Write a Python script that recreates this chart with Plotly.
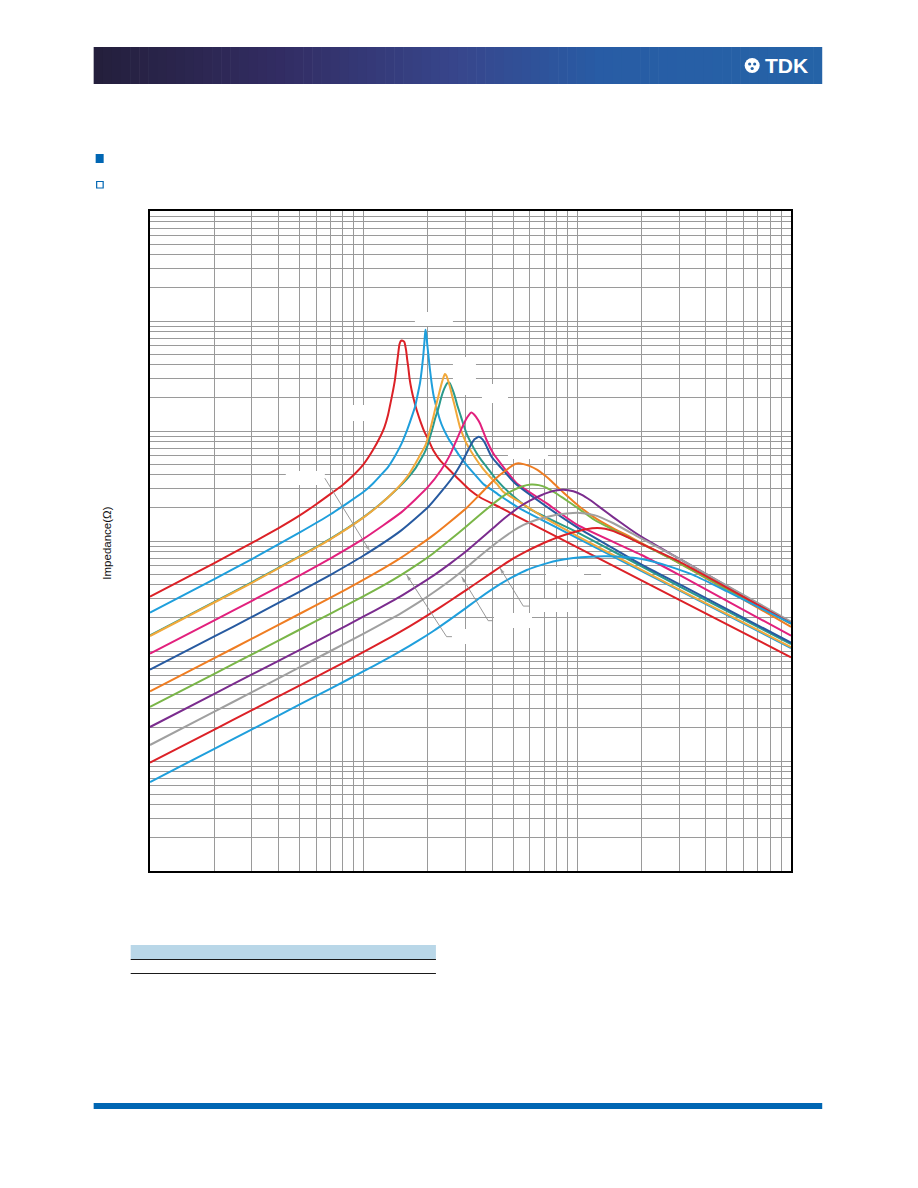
import plotly.graph_objects as go

# ---------------- data (frequency in MHz, impedance in ohm) ----------------
f_47n = [10, 20, 30, 40, 50, 60, 70, 80, 90, 100, 110, 120, 125, 130, 134, 137.4, 140, 142.6, 145, 147, 149, 151, 153, 155,
         158, 160, 161.6, 164, 167.6, 172, 177, 185, 193.5, 200, 211.6, 230, 253, 280, 314, 350, 434.5, 500, 1000, 3000, 10000]
z_47n = [3.12, 6.3, 9.6, 13.1, 17.0, 21.6, 26.8, 32.5, 40, 50, 66, 90, 108, 140, 185, 236, 290, 384, 500, 610, 655, 665, 660, 645,
         540, 440, 384, 300, 236, 190, 155, 120, 96, 85, 67, 53, 44, 36, 29.1, 25, 20.2, 17.5, 8.77, 2.92, 0.877]

f_33n = [10, 20, 30, 50, 70, 100, 110, 120, 130, 140, 150, 160, 168, 174, 179, 183.4, 187, 190, 192.5, 194.5, 196.5, 198,
         200.4, 204, 208, 213, 219.6, 227, 235.5, 248, 262.4, 280, 303.4, 330, 363, 400, 435, 540, 1000, 3000, 10000]
z_33n = [2.23, 4.5, 6.85, 11.9, 17.5, 28, 33, 39.5, 47, 59, 76, 103, 135, 166, 215, 271, 360, 480, 650, 837, 750, 640,
         512, 370, 273, 205, 162, 128, 106, 87, 73, 60, 49, 40.5, 33, 29, 25.8, 19.7, 10.65, 3.55, 1.065]

f_22n = [10, 20, 30, 50, 70, 100, 120, 140, 160, 175, 185, 194.5, 204, 210, 215.6, 223.4, 231.7, 236, 240, 244, 248,
         253.4, 260, 267.4, 275, 282, 292, 303, 320, 338, 360, 390, 420, 450, 550, 700, 1000, 3000, 10000]
z_22n = [1.369, 2.76, 4.17, 7.16, 10.4, 16.4, 21.7, 28.6, 38.5, 51, 62, 74, 100, 125, 155, 205, 271, 305, 330, 318, 290,
         253, 205, 166, 132, 109, 91, 77, 64, 54.5, 46, 38.4, 33, 28, 22, 16.3, 11.1, 3.62, 1.086]

f_22nb = [10, 20, 30, 50, 70, 100, 120, 140, 160, 175, 185, 194.5, 200, 205, 210.9, 216, 222.6, 231.2, 236, 241.4, 245,
          249.3, 253, 257, 262, 267.4, 274, 282, 292, 303, 320, 338, 356, 376, 419, 484, 600, 1000, 3000, 10000]
z_22nb = [1.389, 2.8, 4.23, 7.24, 10.5, 16.5, 21.8, 28.5, 37, 46, 55, 66, 76, 90, 109, 130, 155, 205, 232, 256, 270,
          276, 272, 255, 232, 205, 172, 145, 117, 95.3, 76, 62.7, 54, 47.3, 35.9, 27.1, 19.5, 12.0, 3.86, 1.158]

f_15n = [10, 20, 30, 50, 70, 100, 150, 175, 200, 230, 253, 272, 287, 303, 310, 319, 327, 335, 350, 376, 404, 450, 520,
         719, 1000, 2000, 3000, 10000]
z_15n = [0.945, 1.9, 2.86, 4.84, 6.95, 10.5, 18.2, 24, 31, 44, 60, 82.8, 105, 130, 139, 147, 143, 135, 117.5, 82.8, 62.7,
         47.3, 33.5, 22.0, 14.0, 7.46, 4.91, 1.377]

f_10n = [10, 20, 30, 50, 70, 100, 150, 200, 235, 262, 292, 314, 330, 346, 360, 370, 397, 435, 511, 719, 1000, 2000, 3000, 10000]
z_10n = [0.676, 1.357, 2.04, 3.45, 4.93, 7.38, 12.5, 20.3, 29.3, 38.4, 54.5, 72, 84, 88.7, 84, 77.3, 58.3, 47.3, 33.5, 20.5,
         13.3, 6.1, 4.05, 1.19]

f_6n8 = [10, 20, 30, 50, 70, 100, 125, 148, 180, 212, 253, 303, 350, 400, 435, 467, 500, 529, 560, 600, 650, 693, 740,
         801, 860, 940, 1029, 1200, 1475, 1766, 2000, 3000, 10000]
z_6n8 = [0.43, 0.861, 1.294, 2.17, 3.05, 4.45, 5.7, 6.95, 9.0, 11.3, 14.9, 20.0, 26.5, 34.5, 40.0, 44.5, 49.0, 50.9, 50.0,
         48.0, 44.3, 40.5, 36.5, 31.5, 27.6, 23.7, 20.4, 16.4, 13.0, 10.9, 9.55, 6.3, 1.66]

f_4n7 = [10, 20, 30, 50, 70, 100, 125, 148, 180, 212, 253, 303, 350, 400, 450, 502, 550, 607, 660, 719, 790, 860, 940,
         1029, 1200, 1475, 1766, 2000, 3000, 10000]
z_4n7 = [0.31, 0.62, 0.932, 1.56, 2.19, 3.16, 4.0, 4.85, 6.2, 7.75, 10.2, 13.6, 17.3, 21.5, 25.6, 29.0, 31.3, 32.6, 32.2,
         30.4, 27.3, 24.5, 21.8, 19.3, 15.6, 12.6, 10.6, 9.4, 6.3, 1.76]

f_3n3 = [10, 20, 30, 50, 70, 100, 125, 148, 180, 212, 253, 303, 350, 400, 435, 480, 539, 600, 669, 740, 801, 860, 958,
         1050, 1147, 1300, 1475, 1766, 2000, 3000, 10000]
z_3n3 = [0.2038, 0.408, 0.612, 1.02, 1.43, 2.06, 2.6, 3.12, 3.95, 4.85, 6.2, 8.1, 10.3, 12.9, 14.9, 17.4, 20.6, 23.3,
         25.8, 27.8, 28.9, 29.3, 28.3, 26.3, 23.6, 19.7, 16.4, 12.8, 10.9, 6.9, 1.80]

f_2n2 = [10, 20, 30, 50, 70, 100, 125, 148, 180, 212, 253, 303, 350, 400, 435, 502, 560, 622, 719, 800, 892, 1029, 1200,
         1475, 2000, 3000, 4335, 10000]
z_2n2 = [0.1398, 0.281, 0.422, 0.71, 1.0, 1.44, 1.82, 2.18, 2.75, 3.4, 4.35, 5.75, 7.3, 9.0, 10.2, 12.4, 14.0, 15.2, 16.5,
         17.3, 17.8, 18.0, 17.2, 14.5, 10.5, 6.9, 4.6, 1.85]

f_1n5 = [10, 20, 30, 50, 70, 100, 125, 148, 180, 212, 253, 303, 350, 435, 502, 580, 669, 800, 958, 1100, 1237, 1350,
         1475, 1703, 2000, 3000, 10000]
z_1n5 = [0.0965, 0.193, 0.29, 0.485, 0.68, 0.98, 1.24, 1.49, 1.87, 2.28, 2.85, 3.6, 4.35, 5.8, 6.95, 8.1, 9.25, 10.7, 12.0,
         12.8, 13.1, 12.9, 12.3, 10.9, 9.4, 6.5, 1.78]

f_1n0 = [10, 20, 30, 50, 70, 100, 125, 148, 180, 212, 253, 303, 350, 435, 502, 580, 669, 800, 958, 1150, 1373, 1650, 1967,
         2300, 2716, 3500, 5000, 10000]
z_1n0 = [0.0644, 0.129, 0.194, 0.325, 0.455, 0.655, 0.825, 0.99, 1.24, 1.52, 1.93, 2.48, 3.05, 4.05, 4.75, 5.45, 6.0,
         6.6, 7.0, 7.2, 7.25, 7.15, 6.9, 6.45, 5.85, 4.9, 3.5, 1.78]

series_names = ["47nH", "33nH", "22nH-b", "22nH", "15nH", "10nH", "6.8nH", "4.7nH", "3.3nH", "2.2nH", "1.5nH", "1.0nH"]
series_f = [f_47n, f_33n, f_22nb, f_22n, f_15n, f_10n, f_6n8, f_4n7, f_3n3, f_2n2, f_1n5, f_1n0]
series_z = [z_47n, z_33n, z_22nb, z_22n, z_15n, z_10n, z_6n8, z_4n7, z_3n3, z_2n2, z_1n5, z_1n0]
series_colors = ["#dc2127", "#1f9fdc", "#2a9a8c", "#f2a93b", "#e2207d", "#275aa0",
                 "#ef7d22", "#7ab648", "#7b2c8e", "#a0a0a0", "#dc2127", "#1f9fdc"]

y_title = "Impedance(\u03a9)"

# leader lines (frequency MHz, impedance ohm); last point is the arrow tip
leaders = [
    ([65.8, 106.9], [37.2, 8.11]),
    ([258.9, 244.4, 158.9], [1.35, 1.35, 4.91]),
    ([402.5, 382.6, 287.4], [1.886, 1.886, 4.73]),
    ([594.5, 558.5, 434.5], [2.56, 2.56, 5.68]),
]

# ---------------- page geometry (page pixels, browser body has an 8px margin) ----------------
PAGE_W, PAGE_H, BODY = 918, 1188, 8
W, H = PAGE_W - 2 * BODY, PAGE_H - 2 * BODY
PL, PR, PT, PB = 150.3, 790.8, 211.0, 871.0       # plot area on the page


def pxx(x):
    return (x - PL) / (PR - PL)


def pxy(y):
    return (PB - y) / (PB - PT)


# white label backgrounds inside the chart (page pixel boxes)
gaps = [(415, 312, 453, 326), (345, 405, 368, 421), (286, 471, 325, 485),
        (453, 357, 476, 395), (482, 384, 508, 403), (508, 449, 548, 459),
        (453, 629, 492, 644), (494, 613, 532, 628), (531, 599, 569, 612),
        (546, 567, 584, 581), (601, 567, 650, 581)]

fig = go.Figure()

# label background boxes as filled paths in data space (drawn above the grid, below curves)
for gx0, gy0, gx1, gy1 in gaps:
    fx = [10 ** (1 + (v - PL) / ((PR - PL) / 3)) for v in (gx0, gx1, gx1, gx0, gx0)]
    fy = [10 ** (4 - (v - PT) / ((PB - PT) / 6)) for v in (gy0, gy0, gy1, gy1, gy0)]
    fig.add_trace(go.Scatter(x=fx, y=fy, mode="lines", fill="toself", fillcolor="white",
                             line=dict(width=0, color="white"), showlegend=False, hoverinfo="skip"))

for f, z, c, n in zip(series_f, series_z, series_colors, series_names):
    fig.add_trace(go.Scatter(x=f, y=z, mode="lines", name=n, showlegend=False,
                             hoverinfo="skip",
                             line=dict(color=c, width=2, shape="spline", smoothing=0.5)))

for lx, ly in leaders:
    sizes = [0] * (len(lx) - 1) + [6]
    fig.add_trace(go.Scatter(x=lx, y=ly, mode="lines+markers", showlegend=False, hoverinfo="skip",
                             line=dict(color="#8c8c8c", width=0.9),
                             marker=dict(symbol="arrow", size=sizes, angleref="previous",
                                         color="#8c8c8c", line=dict(width=0))))

axis_common = dict(type="log", dtick="D1", showticklabels=False, ticks="",
                   showgrid=True, gridcolor="#9a9a9a", gridwidth=1,
                   showline=True, linecolor="black", linewidth=1.5, mirror=True,
                   zeroline=False)
fig.update_xaxes(range=[1, 4], **axis_common)
fig.update_yaxes(range=[-2, 4], **axis_common)

shapes = []

# header banner (gradient emulated with strips)
stops = [(0.0, (36, 31, 60)), (0.25, (50, 44, 98)), (0.5, (55, 70, 140)),
         (0.7, (40, 92, 165)), (1.0, (37, 99, 167))]


def grad(t):
    for i in range(len(stops) - 1):
        t0, c0 = stops[i]
        t1, c1 = stops[i + 1]
        if t0 <= t <= t1:
            u = (t - t0) / (t1 - t0)
            return "rgb(%d,%d,%d)" % tuple(round(a + (b - a) * u) for a, b in zip(c0, c1))
    return "rgb(37,99,167)"


bx0, bx1, by0, by1 = 94, 822, 47, 84
n = 80
for i in range(n):
    xa = bx0 + (bx1 - bx0) * i / n
    xb = bx0 + (bx1 - bx0) * (i + 1) / n + 0.6
    shapes.append(dict(type="rect", xref="paper", yref="paper",
                       x0=pxx(xa), x1=pxx(min(xb, bx1)), y0=pxy(by1), y1=pxy(by0),
                       fillcolor=grad(i / (n - 1)), line=dict(width=0), layer="above"))

# TDK logo mark
shapes.append(dict(type="circle", xref="paper", yref="paper",
                   x0=pxx(744.5), x1=pxx(759.5), y0=pxy(73), y1=pxy(58),
                   fillcolor="white", line=dict(width=0), layer="above"))
for cx, cy in ((749.5, 64), (754.5, 64), (752, 68.5)):
    shapes.append(dict(type="circle", xref="paper", yref="paper",
                       x0=pxx(cx - 1.6), x1=pxx(cx + 1.6), y0=pxy(cy + 1.6), y1=pxy(cy - 1.6),
                       fillcolor="rgb(37,99,167)", line=dict(width=0), layer="above"))

# section bullets
shapes.append(dict(type="rect", xref="paper", yref="paper",
                   x0=pxx(96), x1=pxx(104), y0=pxy(163), y1=pxy(154),
                   fillcolor="#0066b3", line=dict(width=0)))
shapes.append(dict(type="rect", xref="paper", yref="paper",
                   x0=pxx(97), x1=pxx(103.5), y0=pxy(188), y1=pxy(181.5),
                   fillcolor="white", line=dict(color="#0066b3", width=1.2)))

# table header band and rules
shapes.append(dict(type="rect", xref="paper", yref="paper",
                   x0=pxx(131), x1=pxx(436), y0=pxy(959), y1=pxy(945),
                   fillcolor="#b9d7e8", line=dict(width=0)))
for yy in (959.5, 973.5):
    shapes.append(dict(type="line", xref="paper", yref="paper",
                       x0=pxx(131), x1=pxx(436), y0=pxy(yy), y1=pxy(yy),
                       line=dict(color="#1a1a1a", width=1.2)))

# footer bar
shapes.append(dict(type="rect", xref="paper", yref="paper",
                   x0=pxx(94), x1=pxx(822), y0=pxy(1109), y1=pxy(1103),
                   fillcolor="#0066b3", line=dict(width=0)))

annotations = [
    dict(text="<b>TDK</b>", xref="paper", yref="paper", x=pxx(786.5), y=pxy(65.5),
         showarrow=False, font=dict(family="Liberation Sans", size=21, color="white"),
         xanchor="center", yanchor="middle"),
    dict(text=y_title, xref="paper", yref="paper", x=pxx(107), y=pxy(543),
         showarrow=False, textangle=-90,
         font=dict(family="Liberation Sans, Arial", size=11.5, color="#111111"),
         xanchor="center", yanchor="middle"),
]

fig.update_layout(width=W, height=H,
                  margin=dict(l=PL - BODY, r=W - (PR - BODY), t=PT - BODY, b=H - (PB - BODY), pad=0),
                  paper_bgcolor="white", plot_bgcolor="white",
                  shapes=shapes, annotations=annotations,
                  hovermode=False, showlegend=False)

fig.write_html("out.html")
